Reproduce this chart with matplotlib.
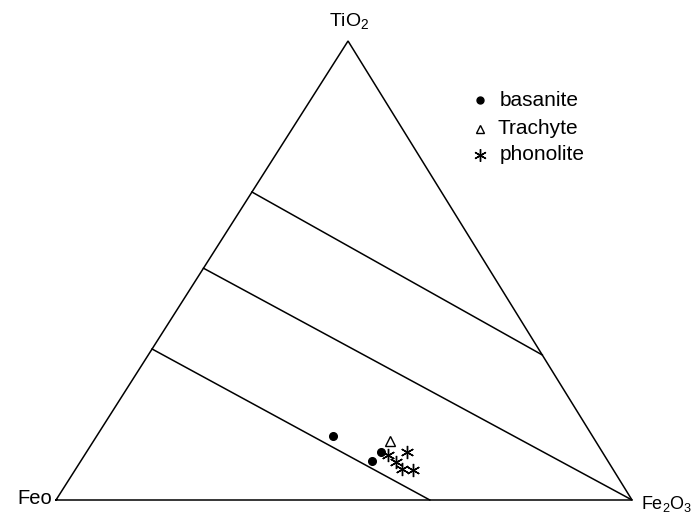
import numpy as np
import matplotlib.pyplot as plt
from matplotlib.lines import Line2D

plt.rcParams['font.family'] = ['Liberation Sans', 'DejaVu Sans']
plt.rcParams['mathtext.fontset'] = 'custom'
plt.rcParams['mathtext.rm'] = 'Liberation Sans'

# compositions as fractions (TiO2, Fe2O3); FeO is the remainder
basanite_tio2 = [0.139, 0.105, 0.085]
basanite_fe2o3 = [0.410, 0.511, 0.506]

trachyte_tio2 = [0.129]
trachyte_fe2o3 = [0.515]

phonolite_tio2 = [0.098, 0.105, 0.083, 0.068, 0.065]
phonolite_fe2o3 = [0.527, 0.556, 0.548, 0.566, 0.587]

# reference tie-lines: (TiO2, Fe2O3) at each end
tie_lines = [
    [(0.671, 0.0), (0.316, 0.684)],
    [(0.505, 0.0), (0.0, 1.0)],
    [(0.329, 0.0), (0.0, 0.649)],
]

APEX_SHIFT = 0.507  # horizontal offset of the TiO2 apex


def to_xy(tio2, fe2o3):
    tio2 = np.asarray(tio2, dtype=float)
    fe2o3 = np.asarray(fe2o3, dtype=float)
    return fe2o3 + APEX_SHIFT * tio2, tio2


fig = plt.figure(figsize=(6.97, 5.16), dpi=100)
ax = fig.add_axes([0, 0, 1, 1])
ax.set_xlim(-56 / 576, 641 / 576)
ax.set_ylim(-16 / 459, 500 / 459)
ax.axis('off')

# outer triangle
tx, ty = to_xy([0, 0, 1, 0], [0, 1, 0, 0])
ax.plot(tx, ty, color='black', lw=1.1, solid_joinstyle='miter')

for (t0, f0), (t1, f1) in tie_lines:
    lx, ly = to_xy([t0, t1], [f0, f1])
    ax.plot(lx, ly, color='black', lw=1.1)

star = (6, 2, 0)

x, y = to_xy(basanite_tio2, basanite_fe2o3)
ax.plot(x, y, 'o', color='black', ms=5.5, ls='none')
x, y = to_xy(trachyte_tio2, trachyte_fe2o3)
ax.plot(x, y, '^', mfc='white', mec='black', mew=1.0, ms=6.5, ls='none')
x, y = to_xy(phonolite_tio2, phonolite_fe2o3)
ax.plot(x, y, marker=star, color='black', mew=1.0, ms=9.5, ls='none')

# vertex labels
ax.text(349 / 697, 1 - 22 / 516, 'TiO$_2$', transform=ax.transAxes,
        ha='center', va='center', fontsize=14)
ax.text(35 / 697, 1 - 499 / 516, 'Feo', transform=ax.transAxes,
        ha='center', va='center', fontsize=14.5)
ax.text(641 / 697, 1 - 504 / 516, 'Fe$_2$O$_3$', transform=ax.transAxes,
        ha='left', va='center', fontsize=13)

# legend drawn by hand
legend_rows = [
    ('basanite', dict(marker='o', color='black', ms=5, mfc='black')),
    ('Trachyte', dict(marker='^', color='black', ms=5.5, mfc='white', mew=1.0)),
    ('phonolite', dict(marker=star, color='black', ms=9, mew=1.0)),
]
row_y = [100, 129, 155]
label_x = [500, 497, 500]
for (name, style), py, lx in zip(legend_rows, row_y, label_x):
    ax.add_line(Line2D([480 / 697], [1 - py / 516], transform=ax.transAxes,
                       ls='none', **style))
    ax.text(lx / 697, 1 - py / 516, name, transform=ax.transAxes,
            ha='left', va='center', fontsize=15)

fig.savefig('out.png', dpi=100)
